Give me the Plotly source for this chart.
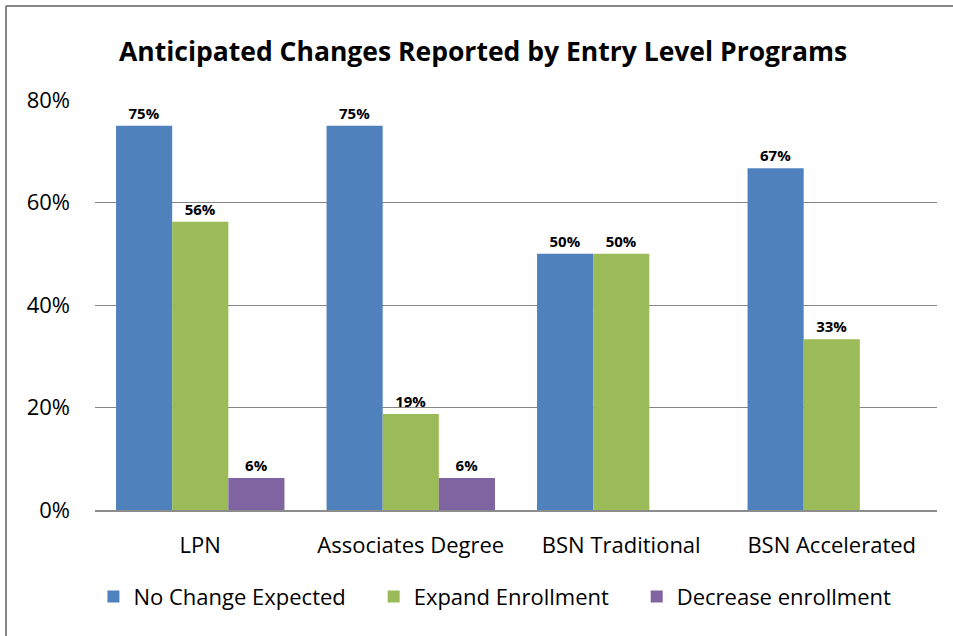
import plotly.graph_objects as go

categories = ["LPN", "Associates Degree", "BSN Traditional", "BSN Accelerated"]
no_change = [75, 75, 50, 66.7]
expand = [56.25, 18.75, 50, 33.3]
decrease = [6.25, 6.25, 0, 0]
series_names = ["No Change Expected", "Expand Enrollment", "Decrease enrollment"]
colors = ["#4F81BD", "#9BBB59", "#8064A2"]
y_ticks = [0, 20, 40, 60, 80]

FONT = "Open Sans"
PAD = "\u00a0" * 4

def labels(vals):
    return [f"{round(v):.0f}%" if v > 0 else "" for v in vals]

fig = go.Figure()
for i, (name, vals, col) in enumerate(zip(series_names, [no_change, expand, decrease], colors)):
    fig.add_trace(go.Bar(
        x=categories, y=vals, name=name + (PAD if i < len(series_names) - 1 else ""),
        marker=dict(color=col, line=dict(width=0)),
        text=labels(vals), textposition="outside", cliponaxis=False,
        textfont=dict(family=FONT, size=15, color="black", weight="bold"),
        hoverinfo="skip",
    ))

fig.update_layout(
    width=953, height=636,
    margin=dict(l=95, r=16, t=100, b=126),
    paper_bgcolor="white", plot_bgcolor="white",
    barmode="group", bargap=0.2, bargroupgap=0,
    title=dict(text="<b>Anticipated Changes Reported by Entry Level Programs</b>",
               x=0.507, xanchor="center", y=0.918, yanchor="middle",
               font=dict(family=FONT, size=26.5, color="black")),
    showlegend=True,
    legend=dict(orientation="h", x=0.475, xanchor="center", y=-0.16, yanchor="top",
                font=dict(family=FONT, size=22, color="black"),
                itemsizing="constant", traceorder="normal"),
    font=dict(family=FONT),
)
fig.update_xaxes(showgrid=False, showline=True, linecolor="#8C8C8C", linewidth=2,
                 ticks="", tickfont=dict(family=FONT, size=22, color="black"), ticklabelstandoff=15)
fig.update_yaxes(range=[0, 80], tickvals=y_ticks, ticktext=[f"{v}%" for v in y_ticks],
                 showgrid=True, gridcolor="#868686", gridwidth=1, zeroline=False,
                 showline=False, ticks="", ticklabelstandoff=24,
                 tickfont=dict(family=FONT, size=22, color="black"))

fig.add_shape(type="line", xref="paper", yref="paper", x0=-0.1057, x1=-0.1057, y0=1.23, y1=-0.4,
              line=dict(color="#868686", width=2))
fig.add_shape(type="line", xref="paper", yref="paper", x0=-0.1057, x1=1.019, y0=1.229, y1=1.229,
              line=dict(color="#868686", width=2))

fig.write_html("out.html", config={"displayModeBar": False},
               post_script="document.body.style.margin='0';")
